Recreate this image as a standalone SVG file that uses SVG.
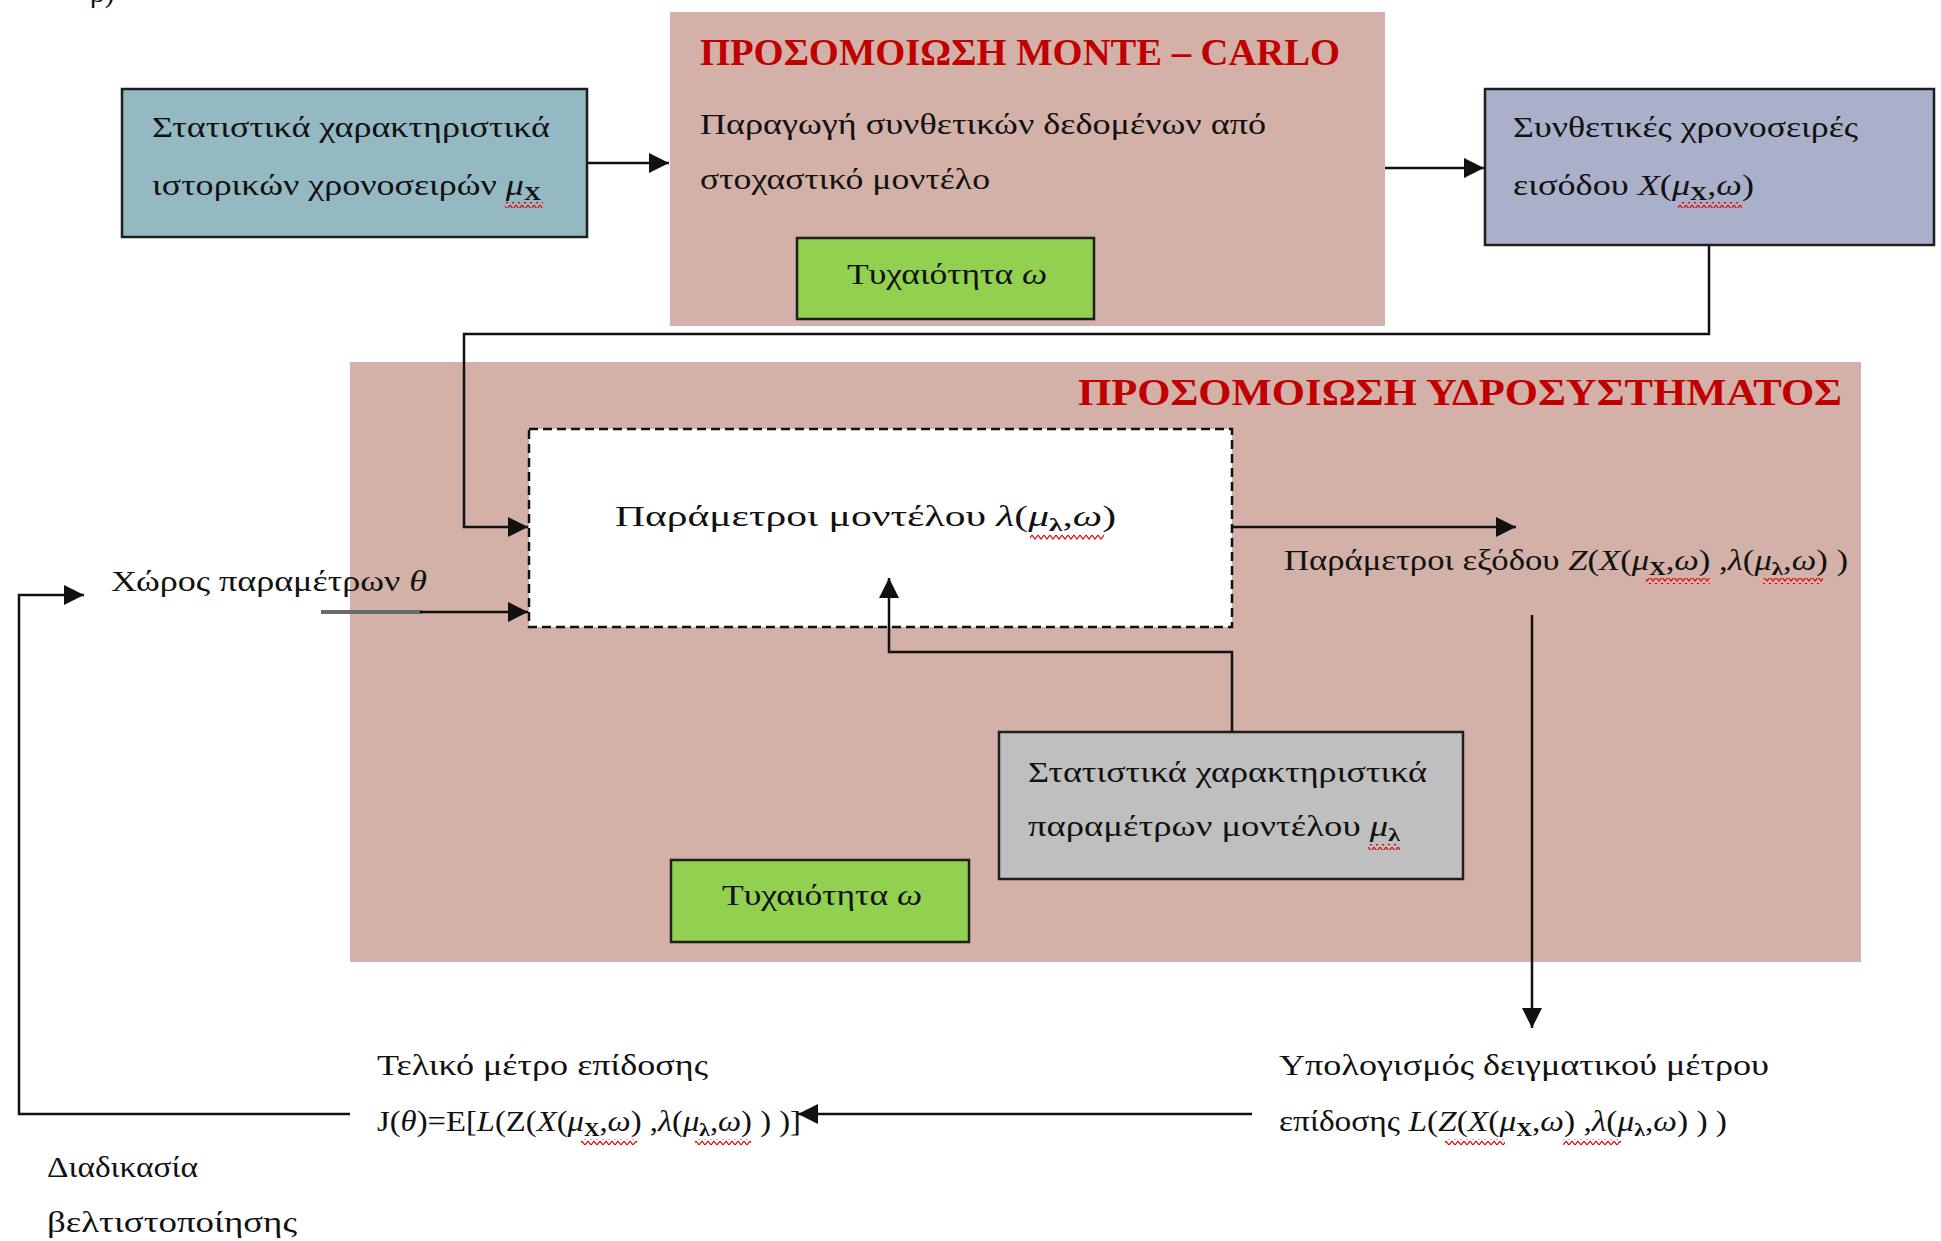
<svg xmlns="http://www.w3.org/2000/svg" width="1941" height="1241" viewBox="0 0 1941 1241">
  <style>
    .t { font-family: "Liberation Serif", "DejaVu Serif", serif; font-size: 29px; fill: #111; }
    .title { font-family: "Liberation Serif", "DejaVu Serif", serif; font-size: 38px; font-weight: bold; fill: #c00000; }
    .i { font-style: italic; }
    .sub { font-weight: bold; font-size: 19px; font-style: normal; }
    .box { stroke: #1e1e1e; stroke-width: 2.5; }
    .panel { fill: #d4b1a8; }
    .green { fill: #92d050; }
    .wire { fill: none; stroke: #111; stroke-width: 2.5; }
    .arrow { marker-end: url(#head); }
    .squig { fill: url(#sq); }
  </style>
  <defs>
    <marker id="head" markerUnits="userSpaceOnUse" markerWidth="20" markerHeight="20" refX="20" refY="10" orient="auto">
      <path d="M0,0 L20,10 L0,20 z" fill="#111"/>
    </marker>
    <pattern id="sq" patternUnits="userSpaceOnUse" width="6" height="6">
      <path d="M0,1 L3,5 L6,1" fill="none" stroke="#e00000" stroke-width="1.2"/>
    </pattern>
  </defs>

  <rect width="1941" height="1241" fill="#ffffff"/>

  <!-- fragment of the caption above the figure -->
  <text class="t" x="90" y="2">β)</text>

  <!-- background panels -->
  <g id="monte-carlo">
    <rect class="panel" x="670" y="12" width="715" height="314"/>
    <text class="title" x="700" y="65" textLength="640" lengthAdjust="spacingAndGlyphs">ΠΡΟΣΟΜΟΙΩΣΗ MONTE – CARLO</text>
    <text class="t" x="700" y="134" textLength="566" lengthAdjust="spacingAndGlyphs">Παραγωγή συνθετικών δεδομένων από</text>
    <text class="t" x="700" y="189" textLength="290" lengthAdjust="spacingAndGlyphs">στοχαστικό μοντέλο</text>
  </g>

  <g id="hydrosystem">
    <rect class="panel" x="350" y="362" width="1511" height="600"/>
    <text class="title" x="1078" y="405" textLength="764" lengthAdjust="spacingAndGlyphs">ΠΡΟΣΟΜΟΙΩΣΗ ΥΔΡΟΣΥΣΤΗΜΑΤΟΣ</text>
  </g>

  <g id="historical-stats">
    <rect class="box" x="122" y="89" width="465" height="148" fill="#94b9c3"/>
    <text class="t" x="152" y="137" textLength="398" lengthAdjust="spacingAndGlyphs">Στατιστικά χαρακτηριστικά</text>
    <text class="t" x="152" y="195" textLength="389" lengthAdjust="spacingAndGlyphs">ιστορικών χρονοσειρών <tspan class="i">μ</tspan><tspan class="sub" dy="5">X</tspan></text>
    <rect class="squig" x="505" y="202" width="38" height="6"/>
  </g>

  <g id="randomness-1">
    <rect class="box green" x="797" y="238" width="297" height="81"/>
    <text class="t" x="847" y="284" textLength="200" lengthAdjust="spacingAndGlyphs">Τυχαιότητα <tspan class="i">ω</tspan></text>
  </g>

  <g id="synthetic-series">
    <rect class="box" x="1485" y="89" width="449" height="156" fill="#aab0c9"/>
    <text class="t" x="1513" y="137" textLength="345" lengthAdjust="spacingAndGlyphs">Συνθετικές χρονοσειρές</text>
    <text class="t" x="1513" y="195" textLength="241" lengthAdjust="spacingAndGlyphs">εισόδου  <tspan class="i">X</tspan>(<tspan class="i">μ</tspan><tspan class="sub" dy="5">X</tspan><tspan dy="-5">,</tspan><tspan class="i">ω</tspan>)</text>
    <rect class="squig" x="1678" y="202" width="64" height="6"/>
  </g>

  <g id="model-parameters">
    <rect x="529" y="429" width="703" height="198" fill="#ffffff" stroke="#111" stroke-width="2.5" stroke-dasharray="9 5"/>
    <text class="t" x="615" y="526" textLength="501" lengthAdjust="spacingAndGlyphs">Παράμετροι μοντέλου <tspan class="i">λ</tspan>(<tspan class="i">μ</tspan><tspan class="sub" dy="5">λ</tspan><tspan dy="-5">,</tspan><tspan class="i">ω</tspan>)</text>
    <rect class="squig" x="1030" y="534" width="74" height="6"/>
  </g>

  <g id="parameter-space">
    <text class="t" x="111" y="591" textLength="316" lengthAdjust="spacingAndGlyphs">Χώρος παραμέτρων <tspan class="i">θ</tspan></text>
  </g>

  <g id="output-parameters">
    <text class="t" x="1284" y="570" textLength="564" lengthAdjust="spacingAndGlyphs">Παράμετροι εξόδου <tspan class="i">Z</tspan>(<tspan class="i">X</tspan>(<tspan class="i">μ</tspan><tspan class="sub" dy="5">X</tspan><tspan dy="-5">,</tspan><tspan class="i">ω</tspan>) ,<tspan class="i">λ</tspan>(<tspan class="i">μ</tspan><tspan class="sub" dy="5">λ</tspan><tspan dy="-5">,</tspan><tspan class="i">ω</tspan>) )</text>
    <rect class="squig" x="1646" y="578" width="64" height="6"/>
    <rect class="squig" x="1763" y="578" width="60" height="6"/>
  </g>

  <g id="parameter-stats">
    <rect class="box" x="999" y="732" width="464" height="147" fill="#bfbfbf"/>
    <text class="t" x="1028" y="782" textLength="399" lengthAdjust="spacingAndGlyphs">Στατιστικά χαρακτηριστικά</text>
    <text class="t" x="1028" y="836" textLength="372" lengthAdjust="spacingAndGlyphs">παραμέτρων μοντέλου <tspan class="i">μ</tspan><tspan class="sub" dy="5">λ</tspan></text>
    <rect class="squig" x="1368" y="844" width="32" height="6"/>
  </g>

  <g id="randomness-2">
    <rect class="box green" x="671" y="860" width="298" height="82"/>
    <text class="t" x="722" y="905" textLength="200" lengthAdjust="spacingAndGlyphs">Τυχαιότητα <tspan class="i">ω</tspan></text>
  </g>

  <g id="sample-performance">
    <text class="t" x="1279" y="1075" textLength="490" lengthAdjust="spacingAndGlyphs">Υπολογισμός δειγματικού  μέτρου</text>
    <text class="t" x="1279" y="1131" textLength="448" lengthAdjust="spacingAndGlyphs">επίδοσης <tspan class="i">L</tspan>(<tspan class="i">Z</tspan>(<tspan class="i">X</tspan>(<tspan class="i">μ</tspan><tspan class="sub" dy="5">X</tspan><tspan dy="-5">,</tspan><tspan class="i">ω</tspan>) ,<tspan class="i">λ</tspan>(<tspan class="i">μ</tspan><tspan class="sub" dy="5">λ</tspan><tspan dy="-5">,</tspan><tspan class="i">ω</tspan>) ) )</text>
    <rect class="squig" x="1445" y="1139" width="60" height="6"/>
    <rect class="squig" x="1563" y="1139" width="58" height="6"/>
  </g>

  <g id="final-performance">
    <text class="t" x="377" y="1075" textLength="331" lengthAdjust="spacingAndGlyphs">Τελικό  μέτρο επίδοσης</text>
    <text class="t" x="377" y="1131" textLength="424" lengthAdjust="spacingAndGlyphs">J(<tspan class="i">θ</tspan>)=E[<tspan class="i">L</tspan>(Z(<tspan class="i">X</tspan>(<tspan class="i">μ</tspan><tspan class="sub" dy="5">X</tspan><tspan dy="-5">,</tspan><tspan class="i">ω</tspan>) ,<tspan class="i">λ</tspan>(<tspan class="i">μ</tspan><tspan class="sub" dy="5">λ</tspan><tspan dy="-5">,</tspan><tspan class="i">ω</tspan>) ) )]</text>
    <rect class="squig" x="581" y="1139" width="56" height="6"/>
    <rect class="squig" x="695" y="1139" width="56" height="6"/>
  </g>

  <g id="optimisation">
    <text class="t" x="47" y="1177" textLength="151" lengthAdjust="spacingAndGlyphs">Διαδικασία</text>
    <text class="t" x="47" y="1232" textLength="250" lengthAdjust="spacingAndGlyphs">βελτιστοποίησης</text>
  </g>

  <!-- connectors, drawn last so the arrow into the dashed box stays visible -->
  <g id="connectors">
    <line class="wire arrow" x1="587" y1="163" x2="669" y2="163"/>
    <line class="wire arrow" x1="1385" y1="168" x2="1484" y2="168"/>
    <polyline class="wire arrow" points="1709,245 1709,334 464,334 464,527 528,527"/>
    <line class="wire arrow" x1="1232" y1="527" x2="1516" y2="527"/>
    <polyline class="wire arrow" points="1232,732 1232,652 889,652 889,578"/>
    <line x1="321" y1="612" x2="422" y2="612" stroke="#6a6a6a" stroke-width="4"/>
    <line class="wire arrow" x1="420" y1="612" x2="528" y2="612"/>
    <line class="wire arrow" x1="1532" y1="615" x2="1532" y2="1028"/>
    <line class="wire arrow" x1="1252" y1="1114" x2="798" y2="1114"/>
    <polyline class="wire arrow" points="350,1114 19,1114 19,595 84,595"/>
  </g>
</svg>
